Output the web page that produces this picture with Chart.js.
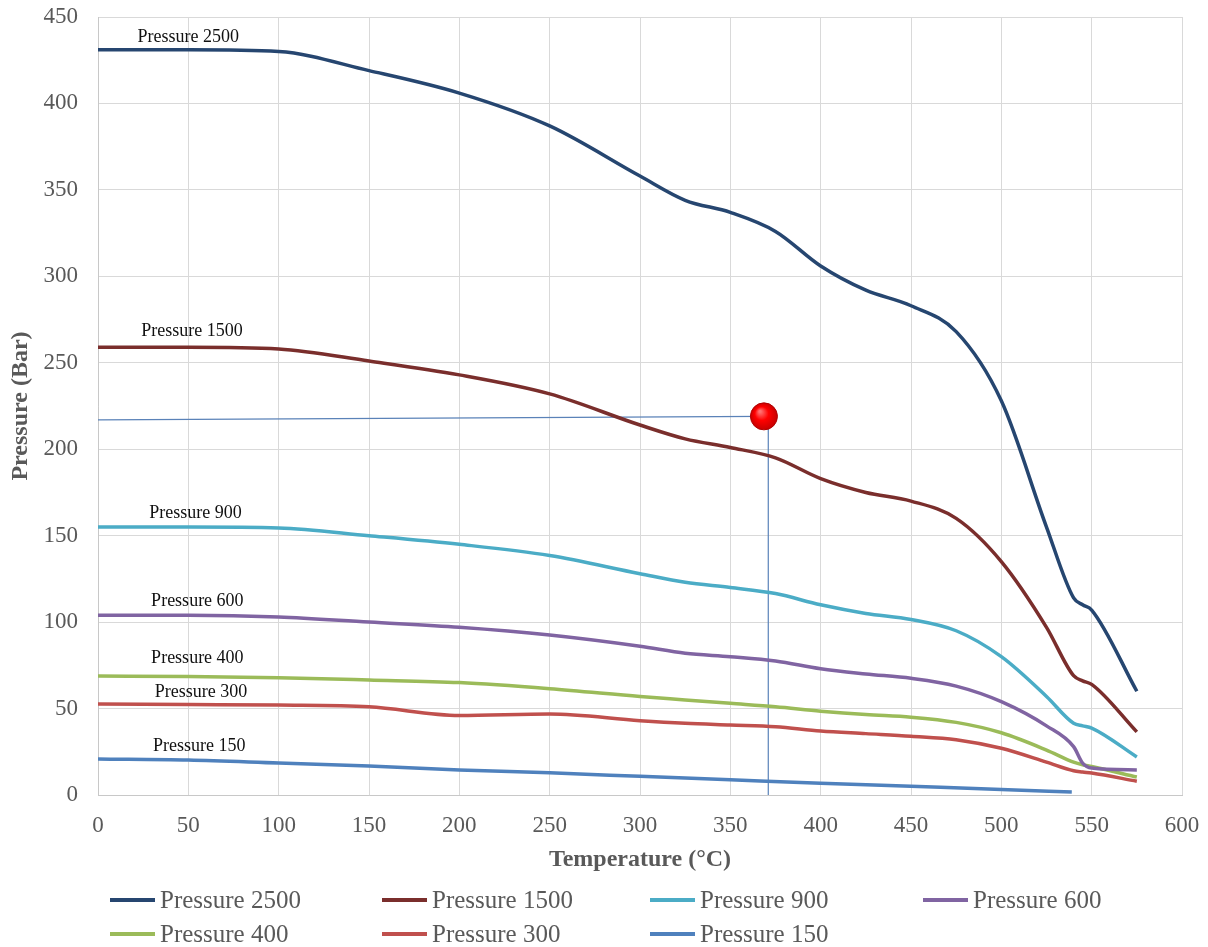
<!DOCTYPE html>
<html>
<head>
<meta charset="utf-8">
<title>Pressure vs Temperature</title>
<script src="https://cdn.jsdelivr.net/npm/chart.js@4.4.0/dist/chart.umd.min.js"></script>
<style>
  html, body { margin: 0; padding: 0; background: #fff; }
  canvas { display: block; }
</style>
</head>
<body>
<canvas id="chart" width="1208" height="947"></canvas>
<script>
// temperatures (°C) shared by most curves
const temps = [0, 50, 100, 150, 200, 250, 300, 325, 350, 375, 400, 425, 450, 475, 500, 525, 540, 545, 550, 575];
const p2500 = [431, 431, 430, 419, 406, 387, 358, 344, 337, 326, 306, 292, 283, 268, 228, 155, 114, 110, 107, 60];
const p1500 = [259, 259, 258, 251, 243, 232, 214, 206, 201, 195, 183, 175, 170, 160, 135, 97, 69, 66, 64, 36.5];
const p900 = [155, 155, 154.5, 150, 145, 138.5, 128, 123, 120, 116.5, 110, 105, 101.5, 95, 80, 57, 41.5, 40, 38.7, 22];
const p600 = [104, 104, 103, 100, 97, 92.5, 86, 82, 80, 77.5, 73, 70, 67.5, 63, 54, 40, 28, 18.5, 15.6, 14.5];
const p400 = [68.8, 68.5, 67.8, 66.5, 65, 61.5, 57, 55, 53, 51, 48.5, 46.5, 45, 42, 36, 26, 19, 17.5, 16.5, 10.4];
const p300 = [52.6, 52.3, 52, 51, 46, 46.8, 43, 41.5, 40.5, 39.5, 37, 35.5, 34, 32, 27, 19, 14, 13.3, 12.7, 8];
// the 150 curve stops earlier
const temps150 = [0, 50, 100, 150, 200, 250, 300, 350, 400, 450, 500, 539];
const p150 = [20.8, 20.2, 18.5, 16.8, 14.5, 12.8, 10.8, 8.8, 6.8, 5, 3.2, 1.7];

const seriesNames = ["Pressure 2500", "Pressure 1500", "Pressure 900", "Pressure 600", "Pressure 400", "Pressure 300", "Pressure 150"];
const xTicks = [0, 50, 100, 150, 200, 250, 300, 350, 400, 450, 500, 550, 600];
const yTicks = [0, 50, 100, 150, 200, 250, 300, 350, 400, 450];

// read-off point and its guide lines
const markerTemp = 368.6;
const markerPressure = 219;
const guideStartPressure = 217;
const guideTemp = 371;

const colors = ["#264670", "#7A2E2C", "#4BACC6", "#8064A2", "#9BBB59", "#C0504D", "#4F81BD"];

const pts = (xs, ys) => xs.map((t, i) => ({ x: t, y: ys[i] }));

const curves = [
  pts(temps, p2500), pts(temps, p1500), pts(temps, p900), pts(temps, p600),
  pts(temps, p400), pts(temps, p300), pts(temps150, p150)
];

const datasets = curves.map((d, i) => ({
  label: seriesNames[i],
  data: d,
  borderColor: colors[i],
  backgroundColor: colors[i],
  borderWidth: 3.5,
  pointRadius: 0,
  cubicInterpolationMode: "monotone",
  fill: false,
  order: 1
}));

datasets.push({
  label: "guide-h",
  data: [{ x: 0, y: guideStartPressure }, { x: markerTemp, y: markerPressure }],
  borderColor: "#5A82B8",
  borderWidth: 1.2,
  pointRadius: 0,
  order: 5
});
datasets.push({
  label: "guide-v",
  data: [{ x: guideTemp, y: markerPressure }, { x: guideTemp, y: 0 }],
  borderColor: "#5A82B8",
  borderWidth: 1.2,
  pointRadius: 0,
  order: 5
});

// shaded red ball
function ballFill(c) {
  const chart = c.chart;
  const xs = chart.scales.x, ys = chart.scales.y;
  if (!xs || !ys || !chart.chartArea) return "#F20000";
  const px = xs.getPixelForValue(markerTemp);
  const py = ys.getPixelForValue(markerPressure);
  const g = chart.ctx.createRadialGradient(px - 4, py - 5, 1, px, py, 14);
  g.addColorStop(0, "#FF7070");
  g.addColorStop(0.45, "#FF0000");
  g.addColorStop(1, "#C40000");
  return g;
}

datasets.push({
  label: "marker",
  data: [{ x: markerTemp, y: markerPressure }],
  showLine: false,
  pointRadius: 13.5,
  pointBackgroundColor: ballFill,
  pointBorderColor: "#B00000",
  pointBorderWidth: 1,
  order: 0
});

// text labels sitting above each curve (temperature, pressure)
const curveLabels = {
  id: "curveLabels",
  afterDatasetsDraw(chart) {
    const anchors = [[50, 438], [52, 268], [54, 163], [55, 112.2], [55, 79.2], [57, 59.6], [56, 28.3]];
    const { ctx, scales: { x, y } } = chart;
    ctx.save();
    ctx.font = '18px "Liberation Serif"';
    ctx.fillStyle = "#111";
    ctx.textAlign = "center";
    ctx.textBaseline = "middle";
    anchors.forEach((a, i) => {
      ctx.fillText(seriesNames[i], x.getPixelForValue(a[0]), y.getPixelForValue(a[1]));
    });
    ctx.restore();
  }
};

// legend laid out as a 4-column grid like the original
const gridLegend = {
  id: "gridLegend",
  afterDraw(chart) {
    const ctx = chart.ctx;
    const cols = [110, 382, 650, 923];
    const rows = [900, 934];
    ctx.save();
    ctx.font = '25px "Liberation Serif"';
    ctx.textBaseline = "middle";
    ctx.fillStyle = "#595959";
    chart.data.datasets.slice(0, 7).forEach((ds, i) => {
      const lx = cols[i % 4];
      const ly = rows[Math.floor(i / 4)];
      ctx.strokeStyle = ds.borderColor;
      ctx.lineWidth = 4;
      ctx.beginPath();
      ctx.moveTo(lx, ly);
      ctx.lineTo(lx + 45, ly);
      ctx.stroke();
      ctx.fillText(ds.label, lx + 50, ly + 1);
    });
    ctx.restore();
  }
};

new Chart(document.getElementById("chart"), {
  type: "line",
  data: { datasets },
  options: {
    responsive: false,
    animation: false,
    layout: { padding: { top: 17, right: 26, left: 0, bottom: 73 } },
    plugins: {
      legend: { display: false },
      tooltip: { enabled: false }
    },
    scales: {
      x: {
        type: "linear",
        min: 0,
        max: 600,
        afterBuildTicks: (s) => { s.ticks = xTicks.map(v => ({ value: v })); },
        afterFit: (s) => { s.height = 79; s.paddingLeft = 0; s.paddingRight = 0; },
        grid: { color: "#D9D9D9", drawTicks: false },
        border: { color: "#C8C8C8" },
        ticks: { padding: 17, color: "#595959", font: { family: "Liberation Serif", size: 23 } },
        title: {
          display: true,
          text: "Temperature (°C)",
          color: "#595959",
          padding: { top: 0, bottom: 0 },
          font: { family: "Liberation Serif", size: 24, weight: "bold" }
        }
      },
      y: {
        min: 0,
        max: 450,
        afterBuildTicks: (s) => { s.ticks = yTicks.map(v => ({ value: v })); },
        afterFit: (s) => { s.width = 98; s.paddingTop = 0; s.paddingBottom = 0; },
        grid: { color: "#D9D9D9", drawTicks: false },
        border: { color: "#C8C8C8" },
        ticks: { padding: 20, color: "#595959", font: { family: "Liberation Serif", size: 23 } },
        title: {
          display: true,
          text: "Pressure (Bar)",
          color: "#595959",
          padding: { top: 6, bottom: 0 },
          font: { family: "Liberation Serif", size: 24, weight: "bold" }
        }
      }
    }
  },
  plugins: [curveLabels, gridLegend]
});
</script>
</body>
</html>
